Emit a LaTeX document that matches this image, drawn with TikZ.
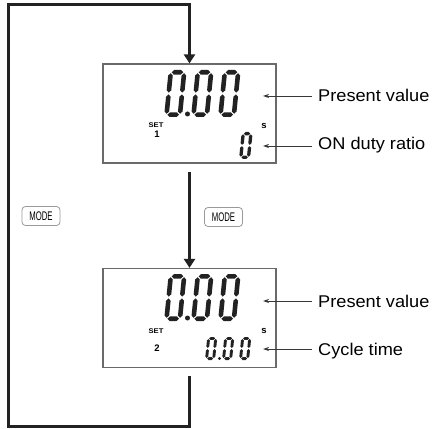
\documentclass[tikz,border=0pt]{standalone}
\usepackage{fontspec}
\setmainfont{Liberation Sans}
\usetikzlibrary{arrows.meta}
\newcommand\dghseg[4]{\fill (#1,#3) -- ({#1+#4},{#3+#4}) -- ({#2-#4},{#3+#4}) -- (#2,#3) -- ({#2-#4},{#3-#4}) -- ({#1+#4},{#3-#4}) -- cycle;}
\newcommand\dgvseg[4]{\fill (#1,#2) -- ({#1+#4},{#2+#4}) -- ({#1+#4},{#3-#4}) -- (#1,#3) -- ({#1-#4},{#3-#4}) -- ({#1-#4},{#2+#4}) -- cycle;}
% x y w h t slant
\newcommand\segzero[6]{%
 \begin{scope}[shift={(#1,#2)},xslant=#6]
 \pgfmathsetmacro\dgr{#5/2}\pgfmathsetmacro\dgg{#5*0.2}%
 \pgfmathsetmacro\dgxa{\dgr}\pgfmathsetmacro\dgxb{#3-\dgr}%
 \pgfmathsetmacro\dgya{\dgr}\pgfmathsetmacro\dgyb{#4-\dgr}\pgfmathsetmacro\dgym{#4/2}%
 \dghseg{\dgxa+\dgg}{\dgxb-\dgg}{\dgyb}{\dgr}
 \dghseg{\dgxa+\dgg}{\dgxb-\dgg}{\dgya}{\dgr}
 \dgvseg{\dgxa}{\dgym+\dgg}{\dgyb-\dgg}{\dgr}
 \dgvseg{\dgxa}{\dgya+\dgg}{\dgym-\dgg}{\dgr}
 \dgvseg{\dgxb}{\dgym+\dgg}{\dgyb-\dgg}{\dgr}
 \dgvseg{\dgxb}{\dgya+\dgg}{\dgym-\dgg}{\dgr}
 \end{scope}}
\definecolor{lcdgray}{HTML}{6A6A6A}
\definecolor{ink}{HTML}{222222}
\tikzset{
  lcd/.style={draw=lcdgray, line width=1.2pt, minimum width=173pt, minimum height=99pt, inner sep=0pt},
  flow/.style={line width=3pt, draw=ink, line join=miter, -{Triangle[width=11pt,length=9pt]}},
  ptr/.style={line width=0.8pt, draw=ink!90, -{Stealth[width=4pt,length=6pt]}},
  lbl/.style={inner sep=0pt, anchor=base west, font=\fontsize{17}{17}\selectfont, text height=12.5pt, text depth=0pt},
  modebtn/.style={draw=gray!80, rounded corners=3.5pt, line width=0.8pt, minimum width=38pt, minimum height=19pt, inner sep=0pt, font=\fontsize{12.5}{12.5}\selectfont},
  tiny/.style={inner sep=0pt, font=\fontsize{8}{8}\selectfont\bfseries},
  tinynum/.style={inner sep=0pt, font=\fontsize{9.5}{9.5}\selectfont\bfseries},
}
\begin{document}
\begin{tikzpicture}[x=1pt,y=1pt]
\useasboundingbox (0,0) rectangle (435,428);
% display boxes
\node[lcd] (box1) at (189.5,314.5) {};
\node[lcd] (box2) at (189.5,110) {};
\begin{scope}[ink]
% big digits, top
\segzero{164}{311}{18}{47}{4.6}{0.1}
\segzero{191}{311}{18}{47}{4.6}{0.1}
\segzero{218}{311}{18}{47}{4.6}{0.1}
\fill (187.5,314) circle (2.5);
\segzero{239}{269}{11}{27}{3.3}{0.1}
% big digits, bottom
\segzero{164}{107}{18}{47}{4.6}{0.1}
\segzero{191}{107}{18}{47}{4.6}{0.1}
\segzero{218}{107}{18}{47}{4.6}{0.1}
\fill (187.5,110) circle (2.5);
\segzero{205}{68}{10}{23}{2.9}{0.1}
\segzero{222}{68}{10}{23}{2.9}{0.1}
\segzero{239}{68}{10}{23}{2.9}{0.1}
\fill (219.5,69.5) circle (1.6);
\end{scope}
% small labels
\node[tiny] (set1) at (156,303) {\scalebox{0.95}[0.85]{SET}};
\node[tinynum] (one) at (157,294) {1};
\node[tinynum] (s1) at (264,302) {s};
\node[tiny] (set2) at (156,97) {\scalebox{0.95}[0.85]{SET}};
\node[tinynum] (two) at (157,80) {2};
\node[tinynum] (s2) at (264,97) {s};
% right labels
\node[lbl] (pv1) at (318,326) {\scalebox{1.07}[1]{Present value}};
\node[lbl] (on1) at (318,278) {\scalebox{1.07}[1]{ON duty ratio}};
\node[lbl] (pv2) at (318,121) {\scalebox{1.07}[1]{Present value}};
\node[lbl] (ct2) at (318,73) {\scalebox{1.07}[1]{Cycle time}};
\coordinate (t1) at (263,332);
\coordinate (t2) at (263,282);
\coordinate (t3) at (263,127);
\coordinate (t4) at (263,79);
\draw[ptr] ([xshift=-6pt]pv1.west |- t1) -- (t1);
\draw[ptr] ([xshift=-6pt]on1.west |- t2) -- (t2);
\draw[ptr] ([xshift=-6pt]pv2.west |- t3) -- (t3);
\draw[ptr] ([xshift=-6pt]ct2.west |- t4) -- (t4);
% MODE buttons
\node[modebtn] (mode1) at (41,212) {\scalebox{0.62}[1]{MODE}};
\node[modebtn] (mode2) at (223.5,211) {\scalebox{0.62}[1]{MODE}};
% flow
\coordinate (bl) at (8.5,2);
\coordinate (tl) at (8.5,423);
\draw[flow] ([yshift=-8pt]box1.south) -- (box2.north);
\draw[flow] ([yshift=-8pt]box2.south) |- (bl) -- (tl) -| (box1.north);
\end{tikzpicture}
\end{document}
